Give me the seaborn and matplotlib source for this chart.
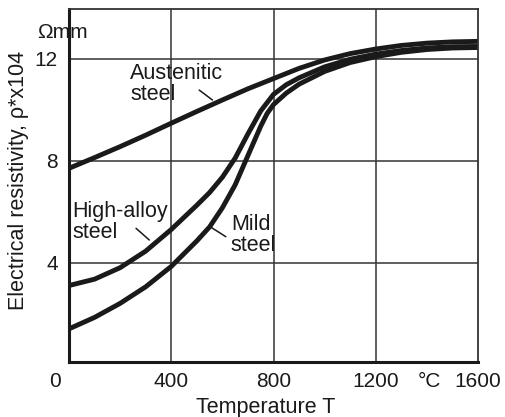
import numpy as np
import pandas as pd
import matplotlib
matplotlib.use("Agg")
import matplotlib.pyplot as plt
from matplotlib.transforms import ScaledTranslation
import seaborn as sns

# Electrical resistivity of steels versus temperature
aust_T = [0, 100, 200, 300, 400, 500, 600, 700, 800, 900, 1000, 1100, 1200, 1300, 1400, 1500, 1600]
aust_rho = [7.7, 8.12, 8.55, 9.0, 9.47, 9.93, 10.38, 10.82, 11.22, 11.62, 11.95, 12.2, 12.38,
            12.52, 12.61, 12.66, 12.68]

high_T = [0, 100, 200, 300, 400, 500, 550, 600, 650, 700, 750, 800, 850, 900, 1000, 1100,
          1200, 1300, 1400, 1500, 1600]
high_rho = [3.1, 3.35, 3.8, 4.45, 5.3, 6.25, 6.75, 7.35, 8.1, 9.05, 9.95, 10.6, 10.98, 11.25,
            11.68, 11.98, 12.18, 12.32, 12.42, 12.47, 12.48]

mild_T = [0, 100, 200, 300, 400, 500, 550, 600, 650, 700, 750, 775, 800, 850, 900, 1000, 1100,
          1200, 1300, 1400, 1500, 1600]
mild_rho = [1.4, 1.85, 2.4, 3.05, 3.85, 4.85, 5.4, 6.15, 7.05, 8.2, 9.35, 9.85, 10.2, 10.65,
            11.0, 11.5, 11.85, 12.08, 12.25, 12.36, 12.42, 12.44]

x_ticks = [0, 400, 800, 1200, 1600]
y_ticks = [4, 8, 12]

df = pd.concat([
    pd.DataFrame({"material": "Austenitic", "T": aust_T, "rho": aust_rho}),
    pd.DataFrame({"material": "High-alloy", "T": high_T, "rho": high_rho}),
    pd.DataFrame({"material": "Mild", "T": mild_T, "rho": mild_rho}),
])

sns.set_theme(style="white")
plt.rcParams["font.family"] = ["Liberation Sans", "DejaVu Sans"]

ink = "#1a1a1a"
Y0, Y1 = 0.1, 13.95
fig = plt.figure(figsize=(5.05, 4.17), dpi=100)
ax = fig.add_axes([69 / 505, 1 - 362 / 417, (478 - 69) / 505, (362 - 9) / 417])

sns.lineplot(data=df, x="T", y="rho", hue="material", estimator=None,
             palette=[ink, ink, ink], linewidth=3.5, legend=False, ax=ax)
for ln in ax.get_lines():
    ln.set_solid_joinstyle("round")

ax.set_xlim(0, 1600)
ax.set_ylim(Y0, Y1)
ax.set_xlabel("")
ax.set_ylabel("")

# grid
for gx in [400, 800, 1200]:
    ax.axvline(gx, color="#333333", lw=1.1, zorder=0)
for gy in y_ticks:
    ax.axhline(gy, color="#333333", lw=1.1, zorder=0)

# frame
for side in ["left", "bottom"]:
    ax.spines[side].set_linewidth(2.2)
    ax.spines[side].set_color(ink)
for side in ["top", "right"]:
    ax.spines[side].set_linewidth(1.3)
    ax.spines[side].set_color("#333333")

ax.set_xticks(x_ticks)
ax.set_xticklabels([str(v) for v in x_ticks])
ax.set_yticks(y_ticks)
ax.set_yticklabels([str(v) for v in y_ticks])
ax.tick_params(axis="both", length=0, labelsize=15, colors=ink)
ax.tick_params(axis="x", pad=7)
ax.tick_params(axis="y", pad=8)
# the shared origin label sits left of the corner
lbl0 = ax.get_xticklabels()[0]
lbl0.set_transform(lbl0.get_transform() + ScaledTranslation(-14 / 100, 0, fig.dpi_scale_trans))

# units
fig.text(37 / 505, 1 - 38 / 417, "Ωmm", fontsize=15, color=ink, ha="left", va="baseline")
fig.text(418 / 505, 1 - 387 / 417, "°C", fontsize=15, color=ink, ha="left", va="baseline")

# axis titles
fig.text(266 / 505, 1 - 413 / 417, "Temperature T", fontsize=15.5, color=ink,
         ha="center", va="baseline")
fig.text(8 / 505, 1 - 180 / 417, "Electrical resistivity, ρ*x104", fontsize=15.5,
         color=ink, rotation=90, ha="left", va="center")

# curve labels with leader lines
fs = 15.5
ax.text(240, 10.17, "Austenitic\nsteel", fontsize=fs, color=ink, ha="left", va="bottom",
        linespacing=1.0)
ax.text(13, 4.75, "High-alloy\nsteel", fontsize=fs, color=ink, ha="left", va="bottom",
        linespacing=1.0)
ax.text(633, 4.25, "Mild\nsteel", fontsize=fs, color=ink, ha="left", va="bottom",
        linespacing=1.0)

def px2data(px, py):
    return ((px - 69.5) / 102.5 * 400, Y0 + (362 - py) / 25.49)

for (a, b) in [((200.0, 90.0), (213.3, 100.0)),
               ((136.7, 228.3), (150.0, 240.0)),
               ((211.0, 226.7), (226.7, 236.7))]:
    x0, y0 = px2data(*a)
    x1, y1 = px2data(*b)
    ax.plot([x0, x1], [y0, y1], color=ink, lw=1.1)

fig.savefig("out.png", dpi=100, facecolor="white")
